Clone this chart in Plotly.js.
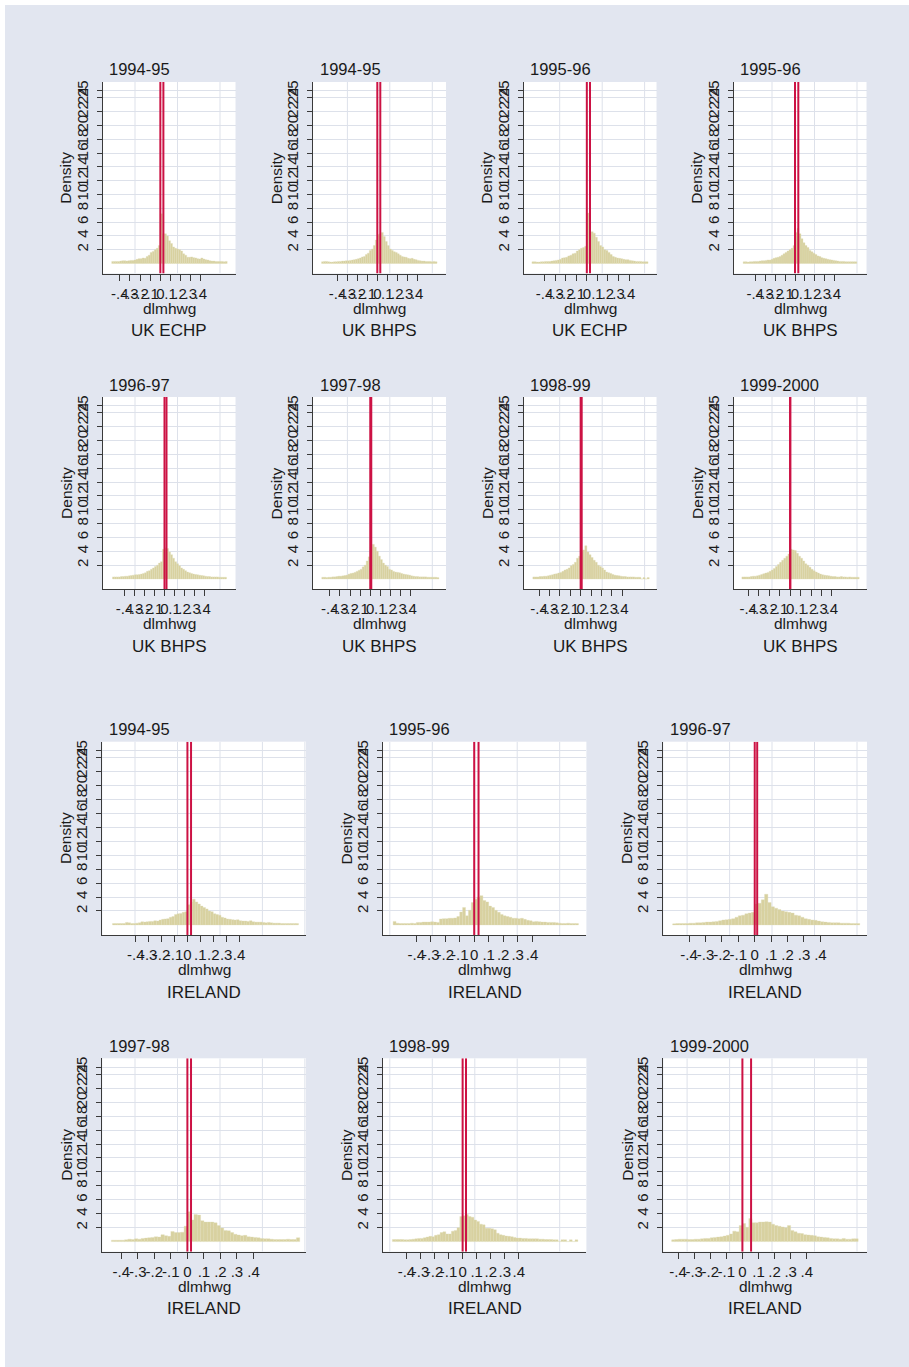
<!DOCTYPE html>
<html>
<head>
<meta charset="utf-8">
<script src="https://cdn.plot.ly/plotly-3.0.1.min.js"></script>
<style>
html,body{margin:0;padding:0;background:#ffffff;}
#chart{position:absolute;left:5px;top:5px;width:904px;height:1362px;}
</style>
</head>
<body>
<div id="chart"></div>
<script>
// ---------------- DATA ----------------
const binWidth = 0.02;
const panelYears = ["1994-95","1994-95","1995-96","1995-96","1996-97","1997-98","1998-99","1999-2000",
                    "1994-95","1995-96","1996-97","1997-98","1998-99","1999-2000"];
const panelGroups = ["UK ECHP","UK BHPS","UK ECHP","UK BHPS","UK BHPS","UK BHPS","UK BHPS","UK BHPS",
                     "IRELAND","IRELAND","IRELAND","IRELAND","IRELAND","IRELAND"];
// left edge of first histogram bin, per panel
const binStarts = [-0.48,-0.56,-0.52,-0.52,-0.52,-0.48,-0.46,-0.46,-0.58,-0.56,-0.50,-0.46,-0.50,-0.44];

const ukEchp9495 = [0.3,0.3,0.3,0.3,0.35,0.4,0.4,0.35,0.4,0.45,0.45,0.5,0.6,0.7,0.7,0.8,0.75,1.0,1.2,1.6,1.75,2.0,2.2,2.6,
  7.2,4.3,4.3,4.0,3.3,2.9,2.4,2.2,2.1,2.0,1.8,1.4,1.2,0.9,0.9,0.95,0.85,0.8,0.7,0.65,0.8,0.65,0.55,0.5,0.4,0.35,0.35,0.3,0.3,0.3,0.3,0.25,0.3];
const ukBhps9495 = [0.25,0.3,0.3,0.25,0.2,0.2,0.25,0.25,0.3,0.3,0.35,0.35,0.4,0.4,0.45,0.5,0.55,0.6,0.7,0.8,0.95,1.0,1.3,1.5,1.9,2.1,2.6,3.4,
  4.2,4.3,4.5,3.9,3.2,2.6,2.1,1.9,1.7,1.6,1.4,1.2,1.0,0.95,0.9,0.75,0.7,0.75,0.6,0.55,0.45,0.4,0.35,0.35,0.3,0.3,0.3,0.25,0.3,0.25];
const ukEchp9596 = [0.25,0.25,0.2,0.2,0.25,0.25,0.3,0.3,0.3,0.35,0.4,0.45,0.5,0.6,0.8,0.85,0.9,1.1,1.2,1.4,1.5,1.8,2.0,2.2,2.3,2.5,
  7.3,4.0,4.6,4.4,3.8,3.2,2.6,2.4,2.0,1.9,1.6,1.3,1.0,0.9,0.8,0.75,0.7,0.6,0.55,0.55,0.45,0.4,0.35,0.3,0.3,0.3,0.25,0.25,0.25];
const ukBhps9596 = [0.25,0.25,0.2,0.25,0.25,0.3,0.3,0.3,0.35,0.4,0.4,0.45,0.5,0.5,0.6,0.75,0.85,0.9,1.0,1.2,1.4,1.6,1.8,2.0,2.2,2.6,
  4.5,5.1,4.3,3.6,3.0,2.6,2.3,1.9,1.7,1.5,1.3,1.1,1.0,0.85,0.75,0.7,0.6,0.55,0.5,0.45,0.4,0.35,0.3,0.3,0.3,0.25,0.25,0.25,0.25,0.25,0.25];
const ukBhps9697 = [0.3,0.3,0.3,0.3,0.35,0.35,0.4,0.4,0.45,0.5,0.55,0.6,0.6,0.65,0.7,0.8,0.9,1.1,1.2,1.4,1.6,1.8,2.0,2.3,2.5,4.3,
  4.5,4.4,3.9,3.5,3.0,2.5,2.2,1.9,1.6,1.4,1.2,1.0,0.9,0.8,0.7,0.65,0.6,0.55,0.5,0.45,0.4,0.35,0.35,0.3,0.3,0.3,0.3,0.25,0.25,0.25,0.25];
const ukBhps9798 = [0.25,0.25,0.2,0.25,0.25,0.3,0.3,0.35,0.4,0.4,0.45,0.5,0.55,0.7,0.8,0.85,0.95,1.1,1.25,1.4,1.75,2.0,2.6,3.2,
  4.6,5.0,4.6,4.0,3.3,2.8,2.3,2.0,1.8,1.4,1.3,1.1,1.0,0.95,0.9,0.8,0.7,0.65,0.6,0.55,0.45,0.4,0.35,0.35,0.3,0.3,0.3,0.3,0.25,0.25,0.25,0.25,0.25,0.2];
const ukBhps9899 = [0.3,0.3,0.3,0.35,0.35,0.4,0.4,0.45,0.55,0.6,0.7,0.75,0.85,0.95,1.1,1.3,1.4,1.6,1.9,2.1,2.4,3.0,3.3,
  4.0,4.2,4.8,3.9,3.5,3.1,2.7,2.4,2.0,1.8,1.6,1.3,1.0,0.9,0.8,0.65,0.55,0.5,0.45,0.4,0.35,0.35,0.3,0.3,0.3,0.3,0.25,0.25,0.25,0,0.2,0,0.2];
const ukBhps9900 = [0.3,0.3,0.3,0.3,0.35,0.4,0.4,0.45,0.55,0.65,0.75,0.85,0.95,1.1,1.3,1.5,1.8,2.1,2.4,2.7,3.0,3.3,3.6,
  4.3,4.2,4.1,3.7,3.3,3.0,2.6,2.2,2.0,1.7,1.4,1.2,1.0,0.85,0.7,0.6,0.55,0.5,0.45,0.4,0.35,0.35,0.3,0.3,0.35,0.3,0.3,0.25,0.3,0.25,0.25,0.25,0.25];
const ireland9495 = [0.2,0.2,0.2,0.2,0.2,0.35,0.3,0.2,0.2,0.25,0.3,0.45,0.4,0.45,0.5,0.5,0.6,0.55,0.7,0.8,0.85,0.9,1.1,1.2,1.5,1.6,1.65,1.8,1.9,
  2.9,3.3,3.7,3.3,3.0,2.7,2.5,2.3,2.0,1.9,1.6,1.5,1.4,1.1,1.0,0.85,0.8,0.75,0.7,0.75,0.6,0.55,0.55,0.5,0.6,0.45,0.4,0.4,0.4,0.35,0.3,0.35,0.3,0.25,0.25,0.25,0.2,0.2,0.2,0.2,0.2,0.2,0.2];
const ireland9596 = [0.5,0.25,0.2,0.2,0.2,0.2,0.25,0.2,0.35,0.35,0.4,0.4,0.4,0.45,0.4,0.35,0.85,0.9,0.9,0.95,0.95,1.0,1.2,1.85,2.5,1.3,2.1,3.2,
  3.7,4.0,4.2,3.5,3.3,2.7,2.5,2.1,1.8,1.5,1.3,1.2,1.1,0.95,0.95,0.9,0.95,0.8,0.65,0.6,0.45,0.5,0.45,0.4,0.4,0.35,0.35,0.35,0.3,0.25,0.2,0.2,0.25,0.2,0.2,0.2];
const ireland9697 = [0.15,0.2,0.2,0.2,0.2,0.25,0.25,0.3,0.3,0.35,0.4,0.4,0.45,0.5,0.6,0.7,0.75,0.8,0.9,1.1,1.3,1.4,1.6,1.7,1.8,
  3.0,3.1,3.6,4.4,3.2,2.6,2.4,2.2,2.0,1.9,1.8,1.7,1.4,1.3,1.1,0.9,0.8,0.7,0.65,0.55,0.45,0.4,0.35,0.3,0.3,0.3,0.25,0.25,0.25,0.2,0.2,0.2];
const ireland9798 = [0.2,0.2,0.2,0.2,0.25,0.35,0.3,0.4,0.35,0.45,0.5,0.55,0.6,0.7,0.65,1.0,0.85,0.75,1.45,1.3,1.3,1.35,2.2,
  4.3,3.1,3.9,3.8,3.0,2.8,2.8,2.8,2.7,2.3,1.95,1.6,1.55,1.3,1.05,0.95,0.85,0.9,0.7,0.65,0.6,0.55,0.45,0.4,0.4,0.35,0.3,0.3,0.3,0.3,0.35,0.3,0.3,0.55];
const ireland9899 = [0.3,0.3,0.3,0.3,0.25,0.25,0.3,0.35,0.4,0.45,0.45,0.55,0.65,0.75,0.7,0.9,1.0,1.3,1.4,1.1,1.1,1.5,1.6,2.0,3.6,
  3.7,3.9,3.6,3.5,3.1,2.9,2.5,2.4,1.9,1.9,1.85,1.7,1.2,1.0,0.9,0.8,0.75,0.7,0.6,0.5,0.5,0.45,0.45,0.4,0.4,0.4,0.4,0.35,0.35,0.3,0.3,0.3,0.25,0.25,0,0.25,0.25,0,0.25,0,0.25];
const ireland9900 = [0.25,0.3,0.35,0.35,0.35,0.3,0.3,0.35,0.35,0.4,0.45,0.45,0.55,0.6,0.65,0.7,0.8,0.9,1.1,1.5,1.4,2.3,
  2.6,2.05,3.3,2.7,2.7,2.8,2.8,2.85,2.8,2.5,2.3,2.2,2.1,2.0,2.3,1.6,1.4,1.2,1.15,1.0,0.95,0.9,0.85,0.7,0.65,0.6,0.55,0.45,0.4,0.4,0.35,0.45,0.35,0.35,0.4,0.4];

const panelDensities = [ukEchp9495, ukBhps9495, ukEchp9596, ukBhps9596, ukBhps9697, ukBhps9798, ukBhps9899, ukBhps9900,
                        ireland9495, ireland9596, ireland9697, ireland9798, ireland9899, ireland9900];

// the two reference lines (xline) drawn in each panel
const refLines = [[0,0.03],[0,0.03],[0,0.03],[0,0.033],[0,0.02],[0,0.01],[0,0.01],[0,0.003],
                  [0,0.028],[0,0.03],[0,0.015],[0,0.022],[0,0.024],[0,0.054]];

const xTickVals = [-0.4,-0.3,-0.2,-0.1,0,0.1,0.2,0.3,0.4];
const xTickText = ["-.4","-.3","-.2","-.1","0",".1",".2",".3",".4"];
const yTickVals = [2,4,6,8,10,12,14,16,18,20,22,24,25];
const yTickText = ["2","4","6","8","10","12","14","16","18","20","22","24","25"];

// ---------------- LAYOUT GEOMETRY (page pixels) ----------------
const OX = 5, OY = 5, W = 904, H = 1362;
const ukLefts = [102.5, 313, 523.5, 733.5], ukWidth = 133;
const ieLefts = [102.3, 382.7, 663.3], ieWidth = 203.7;
const rowBoxes = [[82,273.5],[397,589],[741.7,935],[1058.3,1251.7]];
const panelBoxes = [];
for (let r = 0; r < 2; r++) for (let c = 0; c < 4; c++)
  panelBoxes.push({left: ukLefts[c], width: ukWidth, top: rowBoxes[r][0], bottom: rowBoxes[r][1]});
for (let r = 2; r < 4; r++) for (let c = 0; c < 3; c++)
  panelBoxes.push({left: ieLefts[c], width: ieWidth, top: rowBoxes[r][0], bottom: rowBoxes[r][1]});
const xRanges = [[-0.571,0.742],[-0.646,0.69],[-0.6,0.66],[-0.617,0.717],[-0.62,0.71],[-0.567,0.75],[-0.55,0.73],[-0.54,0.73],
                 [-0.659,0.918],[-0.632,0.775],[-0.557,0.684],[-0.515,0.718],[-0.569,0.881],[-0.492,0.775]];
const yRange = [-1.45, 26.3];
// page-wide vertical grid (pixel positions)
const gridPx = [135,177.5,220,262.4,304.9,347.4,389.8,432.3,474.8,517.2,559.7,602.2,644.6,687.1,729.6,772,814.5,857];

const FONT = "Liberation Sans, Arial, Helvetica, sans-serif";
const INK = "#1a1a1a";
const AXIS = "#3a3a3a";
const GRID = "#dde1ea";
const BAR = "#d8d1a0";
const RED = "#cc1244";

const px2x = X => (X - OX) / W;
const py2y = Y => 1 - (Y - OY) / H;

const traces = [];
const layout = {
  width: 904, height: 1362,
  margin: {l:0, r:0, t:0, b:0, pad:0},
  paper_bgcolor: "#e2e6f0",
  plot_bgcolor: "#ffffff",
  showlegend: false,
  bargap: 0,
  font: {family: FONT, color: INK, size: 15},
  shapes: [],
  annotations: []
};

panelBoxes.forEach((b, i) => {
  const n = i === 0 ? "" : String(i + 1);
  const xa = "x" + n, ya = "y" + n;
  const right = b.left + b.width;
  const xr = xRanges[i];

  const dens = panelDensities[i];
  const centers = dens.map((_, k) => binStarts[i] + binWidth * (k + 0.5));
  traces.push({
    type: "bar", x: centers, y: dens, width: binWidth,
    xaxis: xa, yaxis: ya,
    marker: {color: BAR, line: {color: "#e0dbb6", width: 0.35}},
    hoverinfo: "skip"
  });

  layout["xaxis" + n] = {
    domain: [px2x(b.left), px2x(right)], range: xr, anchor: ya,
    tickmode: "array", tickvals: xTickVals, ticktext: xTickText, tickangle: 0,
    ticks: "outside", ticklen: 6, tickwidth: 1, tickcolor: AXIS,
    showline: true, linecolor: AXIS, linewidth: 1, mirror: false,
    showgrid: false, zeroline: false,
    tickfont: {family: FONT, size: 15, color: INK}, fixedrange: true
  };
  layout["yaxis" + n] = {
    domain: [py2y(b.bottom), py2y(b.top)], range: yRange, anchor: xa,
    tickmode: "array", tickvals: yTickVals, ticktext: yTickText, tickangle: -90,
    ticks: "outside", ticklen: 5, tickwidth: 1, tickcolor: AXIS, ticklabelstandoff: 3,
    showline: true, linecolor: AXIS, linewidth: 1,
    showgrid: true, gridcolor: GRID, gridwidth: 1, zeroline: false,
    tickfont: {family: FONT, size: 15, color: INK}, fixedrange: true
  };

  // vertical grid lines (page-wide grid clipped to this panel)
  gridPx.filter(X => X > b.left + 1 && X < right - 1).forEach(X => {
    const v = xr[0] + (X - b.left) / b.width * (xr[1] - xr[0]);
    layout.shapes.push({type: "line", xref: xa, yref: ya, x0: v, x1: v, y0: yRange[0], y1: yRange[1],
      line: {color: GRID, width: 1}, layer: "below"});
  });

  // red reference lines
  refLines[i].forEach(v => {
    layout.shapes.push({type: "line", xref: xa, yref: ya, x0: v, x1: v, y0: yRange[0], y1: yRange[1],
      line: {color: RED, width: 2}, layer: "above"});
  });

  const midX = px2x(b.left + b.width / 2);
  layout.annotations.push(
    {text: panelYears[i], xref: "paper", yref: "paper", x: px2x(b.left + 4.5), y: py2y(b.top - 12.5),
     xanchor: "left", yanchor: "middle", showarrow: false, font: {family: FONT, size: 16.5, color: INK}},
    {text: "Density", xref: "paper", yref: "paper", x: px2x(b.left - 36.6), y: py2y((b.top + b.bottom) / 2),
     xanchor: "center", yanchor: "middle", textangle: -90, showarrow: false, font: {family: FONT, size: 15.5, color: INK}},
    {text: "dlmhwg", xref: "paper", yref: "paper", x: midX, y: py2y(b.bottom + 34.5),
     xanchor: "center", yanchor: "middle", showarrow: false, font: {family: FONT, size: 15.5, color: INK}},
    {text: panelGroups[i], xref: "paper", yref: "paper", x: midX, y: py2y(b.bottom + 57),
     xanchor: "center", yanchor: "middle", showarrow: false, font: {family: FONT, size: 17, color: INK}}
  );
});

Plotly.newPlot("chart", traces, layout, {displayModeBar: false, staticPlot: true});
</script>
</body>
</html>
